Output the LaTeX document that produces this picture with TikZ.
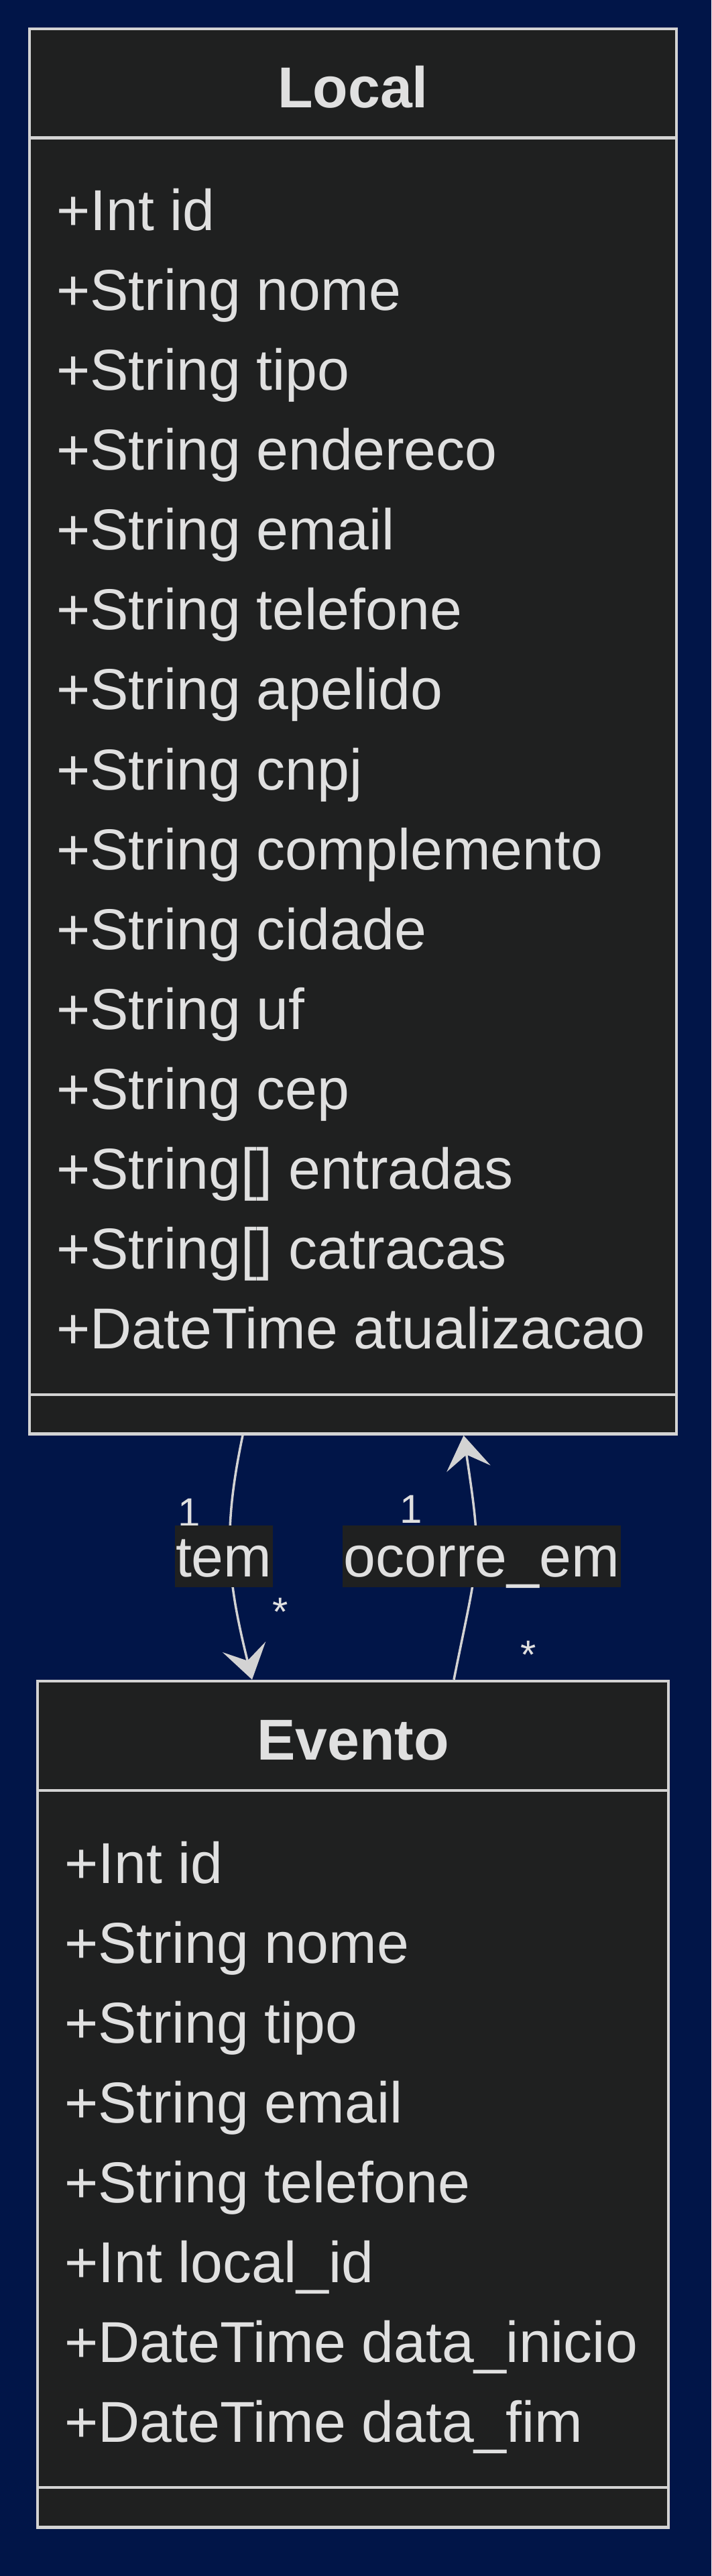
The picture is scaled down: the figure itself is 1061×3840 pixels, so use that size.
\documentclass[tikz,border=0pt]{standalone}
\usepackage{fontspec}
\setmainfont{Liberation Sans}
\usetikzlibrary{arrows.meta,calc}
\definecolor{bgc}{RGB}{1,21,72}
\definecolor{boxfill}{RGB}{31,32,32}
\definecolor{boxline}{RGB}{211,211,211}
\definecolor{txt}{RGB}{224,224,224}
\begin{document}
\begin{tikzpicture}[x=1pt,y=-1pt,
  classbox/.style={rectangle,draw=boxline,fill=boxfill,line width=4.5pt,inner sep=0pt},
  divline/.style={draw=boxline,line width=4.5pt},
  titletext/.style={anchor=base,inner sep=0pt,text=txt,font=\fontsize{86pt}{100pt}\selectfont\bfseries},
  attr/.style={anchor=base west,inner sep=0pt,text=txt,font=\fontsize{86pt}{100pt}\selectfont},
  card/.style={anchor=base west,inner sep=0pt,text=txt,font=\fontsize{60pt}{72pt}\selectfont},
  lbl/.style={anchor=base,fill=boxfill,text=txt,inner sep=0pt,inner xsep=1.5pt,text height=76pt,text depth=15.7pt,font=\fontsize{86pt}{100pt}\selectfont},
  conn/.style={draw=boxline,line width=3.5pt,-{Stealth[length=50pt,width=66pt,inset=21pt]}}
]
\path[use as bounding box,fill=bgc] (0,0) rectangle (1061,3840);

% class boxes
\node[classbox,minimum width=965pt,minimum height=2094.5pt] (local) at (526.5,1090.25) {};
\node[classbox,minimum width=941pt,minimum height=1261.5pt] (evento) at (526.5,3136.75) {};

\draw[divline] ([yshift=-164.75pt]local.north west) -- ([yshift=-164.75pt]local.north east);
\draw[divline] ([yshift=60.75pt]local.south west) -- ([yshift=60.75pt]local.south east);
\draw[divline] ([yshift=-165.25pt]evento.north west) -- ([yshift=-165.25pt]evento.north east);
\draw[divline] ([yshift=61.75pt]evento.south west) -- ([yshift=61.75pt]evento.south east);

\node[titletext] (localT) at (526.5,161) {Local};
\node[titletext] (eventoT) at (526.5,2623.6) {Evento};

\foreach \t [count=\i from 0] in {Int id,String nome,String tipo,String endereco,String email,String telefone,String apelido,String cnpj,String complemento,String cidade,String uf,String cep,{String[] entradas},{String[] catracas},DateTime atualizacao}
  \node[attr] (la\i) at (84,{343.3+119.1*\i}) {+\t};

\foreach \t [count=\i from 0] in {Int id,String nome,String tipo,String email,String telefone,Int local\_id,DateTime data\_inicio,DateTime data\_fim}
  \node[attr] (ea\i) at (96,{2807.3+119.05*\i}) {+\t};

% connectors
\draw[conn] ([xshift=-164.5pt]local.south) .. controls (331.1,2287) and (340,2357) .. ([xshift=-150.5pt]evento.north);
\draw[conn] ([xshift=150.5pt]evento.north) .. controls (714.8,2315) and (719.9,2329) .. ([xshift=165pt]local.south);

% cardinalities
\node[card] (c1) at (265.5,2275) {1};
\node[card] (c2) at (406,2423) {*};
\node[card] (c3) at (596.5,2270) {1};
\node[card] (c4) at (776,2487) {*};

% labels
\node[lbl] (ltem) at (333.7,2350) {tem};
\node[lbl] (locc) at (718.5,2350) {ocorre\_em};
\end{tikzpicture}
\end{document}
